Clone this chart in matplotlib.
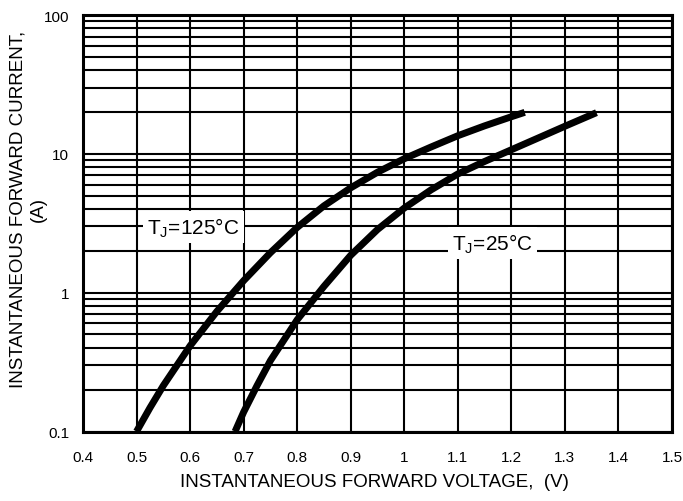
import matplotlib
matplotlib.use("Agg")
import matplotlib.pyplot as plt
from matplotlib.ticker import FixedLocator, NullFormatter

plt.rcParams['font.family'] = ['Liberation Sans', 'DejaVu Sans']

# forward curves (V, A)
v_125 = [0.500, 0.525, 0.550, 0.600, 0.650, 0.700, 0.750, 0.800, 0.850, 0.900,
         0.950, 1.000, 1.050, 1.100, 1.150, 1.200, 1.225]
i_125 = [0.10, 0.148, 0.214, 0.414, 0.733, 1.22, 1.94, 2.95, 4.22, 5.69,
         7.37, 9.22, 11.2, 13.5, 15.9, 18.5, 19.9]

v_25 = [0.684, 0.700, 0.725, 0.750, 0.800, 0.850, 0.900, 0.950, 1.000, 1.050,
        1.100, 1.150, 1.200, 1.250, 1.300, 1.359]
i_25 = [0.10, 0.138, 0.214, 0.324, 0.638, 1.11, 1.86, 2.85, 4.07, 5.5,
        7.16, 8.81, 10.7, 13.0, 15.8, 19.8]

x_ticks = [0.4, 0.5, 0.6, 0.7, 0.8, 0.9, 1.0, 1.1, 1.2, 1.3, 1.4, 1.5]
x_labels = ["0.4", "0.5", "0.6", "0.7", "0.8", "0.9", "1", "1.1", "1.2", "1.3", "1.4", "1.5"]
y_ticks = [0.1, 1, 10, 100]
y_labels = ["0.1", "1", "10", "100"]

W, H = 683, 502
fig = plt.figure(figsize=(W / 100, H / 100), dpi=100)
ax = fig.add_axes([83 / W, 1 - 432.5 / H, (672 - 83) / W, (432.5 - 16) / H])

ax.set_yscale('log')
ax.set_xlim(0.4, 1.5)
ax.set_ylim(0.1, 100)

ax.set_xticks(x_ticks)
ax.set_xticklabels(x_labels)
ax.set_yticks(y_ticks)
ax.set_yticklabels(y_labels)
minor = [m * 10.0 ** e for e in (-1, 0, 1) for m in range(2, 10)]
ax.yaxis.set_minor_locator(FixedLocator(minor))
ax.yaxis.set_minor_formatter(NullFormatter())

ax.grid(True, which='both', color='black', linewidth=1.5)
ax.tick_params(which='both', length=0, labelsize=11)
ax.tick_params(axis='x', pad=13)
ax.tick_params(axis='y', pad=10)
for s in ax.spines.values():
    s.set_linewidth(2.2)

ax.plot(v_125, i_125, color='black', linewidth=5, solid_capstyle='butt',
        solid_joinstyle='round', zorder=3)
ax.plot(v_25, i_25, color='black', linewidth=5, solid_capstyle='butt',
        solid_joinstyle='round', zorder=3)

ax.text(0.52, 2.98, r"T$_\mathregular{J}$=125°C", fontsize=15, ha='left', va='center', zorder=4,
        bbox=dict(facecolor='white', edgecolor='none', pad=3))
ax.text(1.089, 2.27, r"T$_\mathregular{J}$=25°C", fontsize=15, ha='left', va='center', zorder=4,
        bbox=dict(facecolor='white', edgecolor='none', pad=3))

fig.text(374 / W, 1 - 483 / H, "INSTANTANEOUS FORWARD VOLTAGE,  (V)", fontsize=13.5,
         ha='center', va='center')
fig.text(28 / W, 1 - 209 / H, "INSTANTANEOUS FORWARD CURRENT,\n(A)", fontsize=13.5,
         ha='center', va='center', rotation=90, multialignment='center', linespacing=1.3)

fig.savefig("out.png", dpi=100)
